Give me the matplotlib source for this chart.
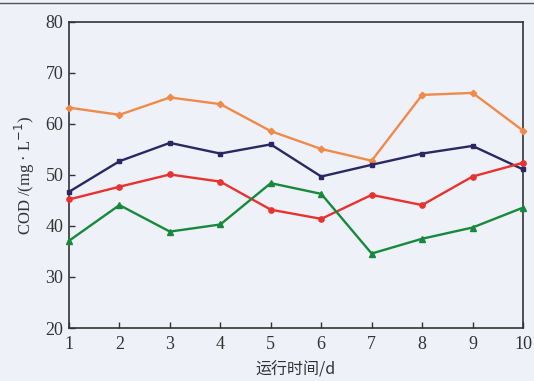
import matplotlib
matplotlib.use("Agg")
import matplotlib.pyplot as plt
from matplotlib.lines import Line2D

days = [1, 2, 3, 4, 5, 6, 7, 8, 9, 10]
orange_vals = [63.2, 61.8, 65.2, 63.9, 58.6, 55.1, 52.8, 65.7, 66.1, 58.7]
navy_vals = [46.7, 52.7, 56.3, 54.2, 56.0, 49.7, 52.0, 54.2, 55.7, 51.1]
red_vals = [45.2, 47.7, 50.1, 48.7, 43.2, 41.4, 46.1, 44.1, 49.7, 52.4]
green_vals = [37.1, 44.1, 38.9, 40.3, 48.4, 46.3, 34.6, 37.5, 39.7, 43.6]
yticks = [20, 30, 40, 50, 60, 70, 80]

bg = "#eef1f8"
fig = plt.figure(figsize=(5.34, 3.81), dpi=100, facecolor=bg)
ax = fig.add_axes([0.1292, 0.1391, 0.9794 - 0.1292, 0.9423 - 0.1391])
ax.set_facecolor(bg)

series = [
    (orange_vals, "#f08a4b", "D", 3.3),
    (navy_vals, "#2b2762", "s", 3.3),
    (red_vals, "#e8322f", "o", 3.8),
    (green_vals, "#16893d", "^", 3.8),
]
for vals, c, m, ms in series:
    ax.plot(days, vals, color=c, lw=1.7, marker=m, ms=ms, mfc=c, mec=c, clip_on=False, zorder=3)

ax.set_xlim(1, 10)
ax.set_ylim(20, 80)
ax.set_xticks(days)
ax.set_yticks(yticks)
serif = ["Liberation Serif", "DejaVu Serif"]
ax.set_xticklabels([str(d) for d in days], fontfamily=serif, fontsize=13, color="#333333")
ax.set_yticklabels([str(v) for v in yticks], fontfamily=serif, fontsize=13, color="#333333")
ax.tick_params(direction="in", length=4, width=1, colors="#333333")
ax.tick_params(axis="x", pad=6)
ax.tick_params(axis="y", pad=4)
for s in ax.spines.values():
    s.set_color("#333333")
    s.set_linewidth(1.2)

ax.set_xlabel("运行时间/d", fontfamily=["Noto Sans CJK SC", "DejaVu Sans"], fontsize=11.5, color="#333333", labelpad=6)
ax.set_ylabel("COD /(mg · L$^{-1}$)", fontfamily=serif, fontsize=12, color="#333333", labelpad=6)

fig.add_artist(Line2D([0, 1], [1 - 3 / 381, 1 - 3 / 381], color="#555555", lw=1, transform=fig.transFigure))

fig.savefig("out.png", dpi=100, facecolor=bg)
